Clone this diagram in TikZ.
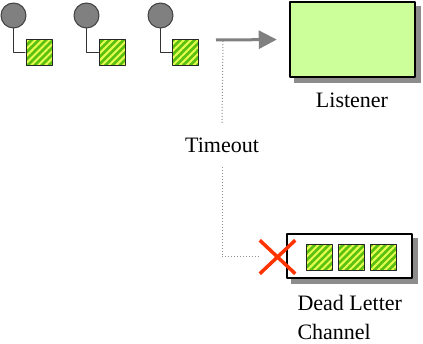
\documentclass[tikz,border=0pt]{standalone}
\usepackage{fontspec}
\setmainfont{Liberation Serif}
\usetikzlibrary{arrows.meta,shapes.misc,backgrounds,patterns.meta,positioning}

\definecolor{msggreen}{HTML}{5CC010}
\definecolor{msgyellow}{HTML}{E6FF50}
\definecolor{boxgreen}{HTML}{CCFF99}
\definecolor{crossred}{HTML}{FF3300}

\begin{document}
\begin{tikzpicture}[
			x=1pt, y=-1pt,
			every node/.style={font=\fontsize{22}{29}\selectfont},
			line cap=round,
			line join=round,
			sender/.style={circle, draw=black!75, fill=black!50, line width=1pt,
				minimum size=25pt, inner sep=0pt},
			msg/.style={rectangle, draw=black!85, line width=1pt, minimum size=26pt,
				inner sep=0pt, preaction={fill=msggreen},
				pattern={Lines[angle=45, distance=5pt, line width=2pt]},
				pattern color=msgyellow},
			bigbox/.style={rectangle, draw=black, line width=2.5pt},
			shade box/.style={fill=black!45},
			link/.style={draw=black!80, line width=1pt},
			flow/.style={draw=black!50, line width=3pt, line cap=butt,
				-{Triangle[length=18pt, width=18pt]}},
			dotline/.style={draw=black!45, line width=1pt, dotted, line cap=butt}
			]
			\useasboundingbox (0,0) rectangle (423,344);
			
			% Senders with their messages
			\foreach \i/\cx/\mx in {1/13.5/39, 2/86.5/112, 3/160.5/185.5} {
				\node[sender] (c\i) at (\cx,15.5) {};
				\node[msg] (m\i) at (\mx,53) {};
				\draw[link] (c\i.south) |- (m\i.west);
			}
			
			% Listener
			\node[bigbox, fill=boxgreen, minimum width=125pt, minimum height=75pt]
				(lis) at (352.5,39.5) {};
			\node[anchor=base] (lislabel) at (352,108) {Listener};
			
			\coordinate (split) at (216,40);
			\coordinate (tap) at (223,41);
			\draw[flow, shorten >=12pt] (split) -- (lis.west);
			
			% Timeout path
			\node[minimum height=44pt, inner sep=0pt] (tmo) at (222,145) {Timeout};
			
			% Dead letter channel
			\node[bigbox, fill=white, minimum width=125pt, minimum height=44pt]
				(dlc) at (349.5,256) {};
			\node[msg] (q2) at (351,257.5) {};
			\node[msg, left=5pt of q2] (q1) {};
			\node[msg, right=5pt of q2] (q3) {};
			\node[anchor=base west, align=left] (dlclabel) at (294,340) {Dead Letter\\Channel};
			
			% Shadows behind both boxes
			\begin{scope}[on background layer]
				\foreach \b in {lis, dlc}
					\fill[shade box] ([shift={(5,5)}]\b.north west) rectangle ([shift={(5,5)}]\b.south east);
			\end{scope}
			
			\node[cross out, draw=crossred, line width=3.5pt, line cap=butt,
				minimum width=32pt, minimum height=30pt, inner sep=0pt] (x) at (277.5,257) {};
			
			\draw[dotline] (tap) -- (tmo.north);
			\draw[dotline] (tmo.south) |- (x.west);
		\end{tikzpicture}
\end{document}
